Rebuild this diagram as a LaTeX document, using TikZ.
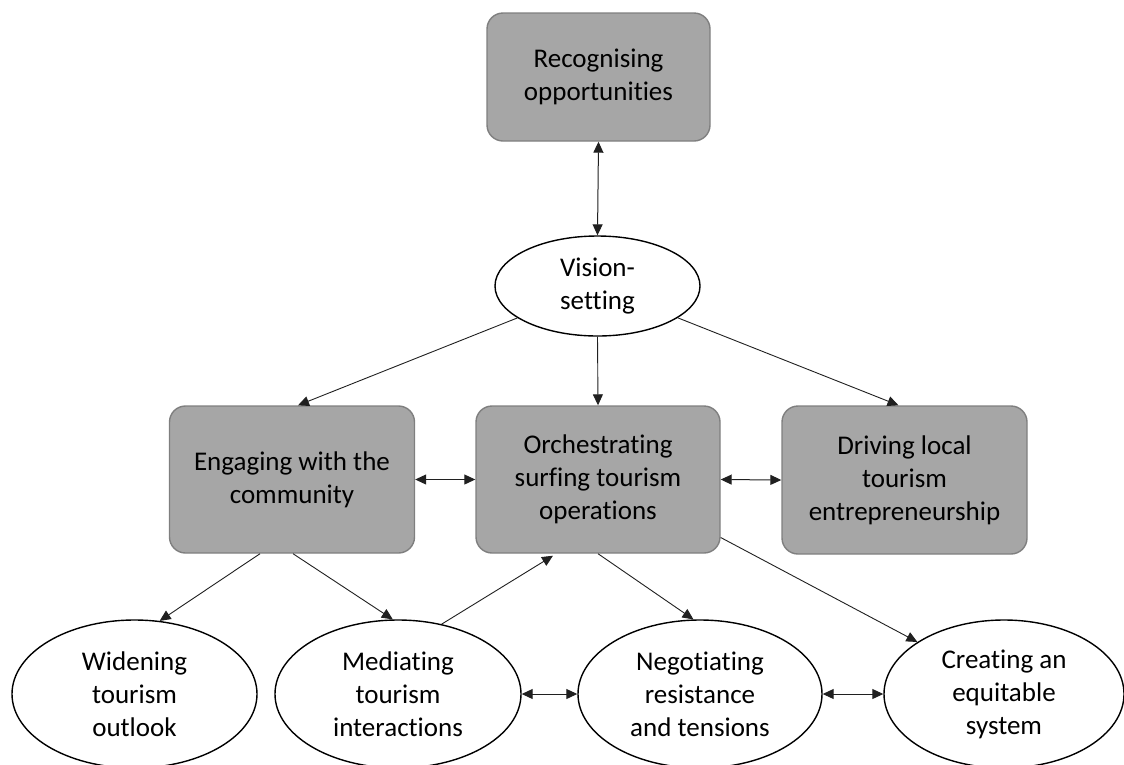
\documentclass[tikz,border=0pt]{standalone}
\usepackage{fontspec}
\setmainfont{Carlito}[Ligatures=NoCommon]
\usetikzlibrary{shapes.geometric,arrows.meta}

\definecolor{boxfill}{HTML}{A6A6A6}
\definecolor{boxline}{HTML}{7F7F7F}
\definecolor{inkline}{HTML}{202020}

\tikzset{
  base/.style={align=center, inner sep=0pt, text=black,
    font=\fontsize{27}{33}\selectfont},
  stagebox/.style={base, rectangle, rounded corners=16pt, fill=boxfill,
    draw=boxline, line width=1.4pt, minimum width=245pt, minimum height=147pt},
  actoval/.style={base, ellipse, fill=white, draw=black, line width=1.4pt,
    minimum width=245pt, minimum height=148pt},
  oneway/.style={draw=inkline, line width=0.9pt, -{Triangle[length=11pt,width=10pt]}},
  twoway/.style={draw=inkline, line width=1pt,
    {Triangle[length=11pt,width=10pt]}-{Triangle[length=11pt,width=10pt]}}
}

\begin{document}
\begin{tikzpicture}[x=1pt,y=-1pt]
\useasboundingbox (0,0) rectangle (1124,764);

% top of the hierarchy
\node[stagebox, minimum width=223pt, minimum height=128pt] (rec) at (598.5,77)
  {Recognising\\opportunities};
\node[actoval, minimum width=205pt, minimum height=100pt] (vis) at (597.5,286)
  {Vision-\\setting};

% middle row of activities
\node[stagebox] (eng) at (292,479.5) {Engaging with the\\community};
\node[stagebox, minimum width=244pt] (orch) at (598,479.5)
  {Orchestrating\\surfing tourism\\operations};
\node[stagebox, minimum height=148pt] (drv) at (904.5,480)
  {Driving local\\tourism\\entrepreneurship};

% bottom row of outcomes
\node[actoval] (wid) at (134.5,694) {Widening\\tourism\\outlook};
\node[actoval, minimum width=246pt] (med) at (398,694)
  {Mediating\\tourism\\interactions};
\node[actoval, minimum width=244pt] (neg) at (700,694)
  {Negotiating\\resistance\\and tensions};
\node[actoval, minimum width=240pt] (cre) at (1004,694)
  {Creating an\\equitable\\system};

% links between vision and the activities
\draw[twoway] (rec.south) -- (vis.north);
\draw[oneway] (vis) -- ([xshift=6pt]eng.north);
\draw[oneway] (vis.south) -- (orch.north);
\draw[oneway] (vis) -- ([xshift=-6pt]drv.north);

\draw[twoway] (eng.east) -- (orch.west);
\draw[twoway] (orch.east) -- (drv.west);

% links down to the outcomes
\draw[oneway] ([xshift=-32pt]eng.south) -- (wid.71);
\draw[oneway] ([xshift=1pt]eng.south) -- (med.94);
\draw[oneway] (med.58) -- ([xshift=-45pt,yshift=-2pt]orch.south);
\draw[oneway] (orch.south) -- (neg.95);
\draw[oneway] ([yshift=-58pt]orch.east) -- (cre.149);

\draw[twoway] (med.east) -- (neg.west);
\draw[twoway] (neg.east) -- (cre.west);
\end{tikzpicture}
\end{document}
